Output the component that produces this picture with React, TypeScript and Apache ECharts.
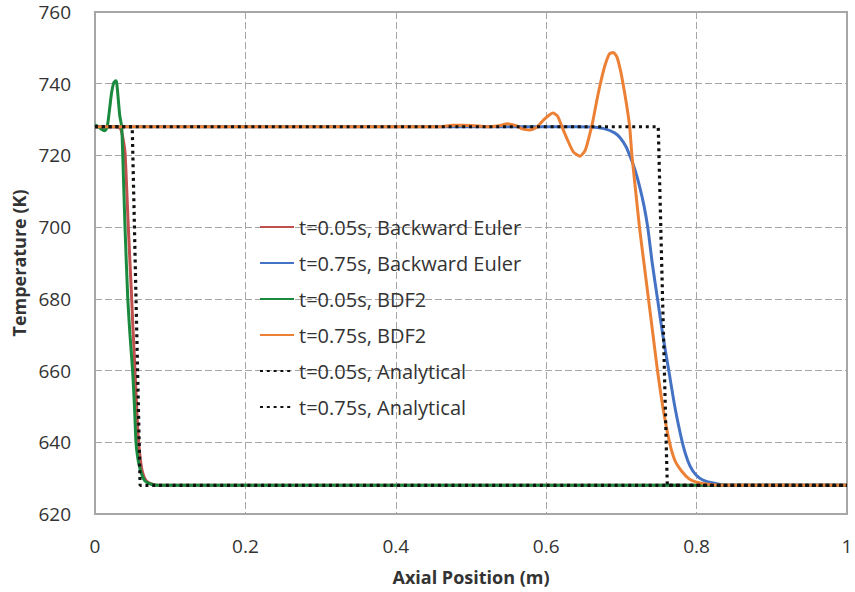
import React, { useEffect, useRef } from "react";
import * as echarts from "echarts";

const seriesNames = [
  "t=0.05s, Backward Euler",
  "t=0.75s, Backward Euler",
  "t=0.05s, BDF2",
  "t=0.75s, BDF2",
  "t=0.05s, Analytical",
  "t=0.75s, Analytical",
];

const beT005: [number, number][] = [
  [0, 728], [0.03, 728], [0.034, 727.4], [0.037, 725], [0.04, 720.5], [0.0443, 700],
  [0.0488, 680], [0.05, 674], [0.0525, 663], [0.0545, 654], [0.0576, 641], [0.061, 634],
  [0.064, 631], [0.068, 629.3], [0.075, 628.4], [0.085, 628], [1, 628],
];

const beT075: [number, number][] = [
  [0, 728], [0.64, 728], [0.66, 727.9], [0.678, 727.4], [0.691, 726.3], [0.698, 725],
  [0.706, 722.5], [0.712, 719.5], [0.718, 716], [0.724, 711.5], [0.73, 706], [0.735, 700],
  [0.741, 690], [0.748, 680], [0.755, 670], [0.763, 660], [0.771, 650], [0.781, 640],
  [0.788, 635], [0.795, 632], [0.804, 630], [0.814, 629], [0.828, 628.4], [0.84, 628],
  [1, 628],
];

const bdfT005: [number, number][] = [
  [0, 728.5], [0.005, 728], [0.009, 727.2], [0.013, 726.9], [0.016, 727.8], [0.0177, 730],
  [0.02, 734], [0.022, 737.4], [0.025, 740.3], [0.0275, 740.8], [0.029, 740], [0.031, 735.5],
  [0.033, 731], [0.0355, 728], [0.0368, 720.7], [0.0399, 700], [0.0436, 680], [0.0465, 670],
  [0.05, 660], [0.0525, 650], [0.0545, 640], [0.057, 635.5], [0.06, 632.5], [0.0635, 630.3],
  [0.0665, 629.2], [0.072, 628.5], [0.082, 628], [1, 628],
];

const bdfT075: [number, number][] = [
  [0, 728], [0.46, 728], [0.475, 728.4], [0.49, 728.4], [0.505, 728.3], [0.52, 728],
  [0.537, 728.3], [0.549, 728.8], [0.56, 728.3], [0.568, 727.4], [0.578, 727.1], [0.587, 727.8],
  [0.597, 730], [0.609, 731.8], [0.615, 731], [0.621, 728], [0.628, 724.5], [0.636, 721],
  [0.645, 719.8], [0.652, 721.5], [0.658, 726], [0.662, 729.5], [0.667, 735], [0.672, 740],
  [0.678, 745], [0.684, 748.3], [0.689, 748.7], [0.694, 747.5], [0.699, 743.5], [0.703, 739],
  [0.707, 734], [0.711, 728], [0.714, 720], [0.719, 710], [0.724, 700], [0.73, 690],
  [0.736, 680], [0.742, 670], [0.748, 660], [0.755, 650], [0.764, 640], [0.771, 635],
  [0.78, 632], [0.79, 629.8], [0.8, 628.9], [0.818, 628.2], [0.83, 628], [1, 628],
];

const anaT005: [number, number][] = [
  [0, 728], [0.0495, 728], [0.06, 628], [1, 628],
];

const anaT075: [number, number][] = [
  [0, 728], [0.749, 728], [0.761, 628], [1, 628],
];

const colors = ["#C0504D", "#4472C4", "#1A8A3E", "#EC8035", "#111111", "#111111"];

const FONT = "Open Sans";

export default function App() {
  const ref = useRef<HTMLDivElement>(null);
  useEffect(() => {
    if (!ref.current) return;
    const chart = echarts.init(ref.current, undefined, { renderer: "svg" });
    const solid = (name: string, data: [number, number][], color: string) => ({
      name,
      type: "line",
      data,
      symbol: "none",
      showSymbol: false,
      smooth: 0.2,
      lineStyle: { color, width: 3 },
      itemStyle: { color },
    });
    const dotted = (name: string, data: [number, number][]) => ({
      name,
      type: "line",
      data,
      symbol: "none",
      showSymbol: false,
      lineStyle: { color: "#111111", width: 3.2, type: [3, 3.8] },
      itemStyle: { color: "#111111" },
    });
    chart.setOption({
      animation: false,
      color: colors,
      grid: {
        left: 95,
        right: 8,
        top: 12,
        bottom: 78,
        show: true,
        borderColor: "#A6A6A6",
        borderWidth: 2,
        outerBoundsMode: "none",
      },
      legend: {
        orient: "vertical",
        left: 259,
        top: 217,
        padding: 0,
        itemWidth: 34,
        itemHeight: 14,
        itemGap: 16,
        data: seriesNames,
        itemStyle: { opacity: 0, borderWidth: 0 },
        textStyle: { fontFamily: FONT, fontSize: 20, color: "#333333", lineHeight: 20 },
      },
      xAxis: {
        type: "value",
        min: 0,
        max: 1,
        interval: 0.2,
        name: "Axial Position (m)",
        nameLocation: "middle",
        nameGap: 54,
        nameTextStyle: { fontFamily: FONT, fontSize: 18, fontWeight: "bold", color: "#333333" },
        axisLine: { show: false },
        axisTick: { show: false },
        axisLabel: { fontFamily: FONT, fontSize: 19, color: "#333333", margin: 22 },
        splitLine: {
          show: true,
          showMinLine: false,
          showMaxLine: false,
          lineStyle: { color: "#A6A6A6", width: 1, type: [7, 3] },
        },
      },
      yAxis: {
        type: "value",
        min: 620,
        max: 760,
        interval: 20,
        name: "Temperature (K)",
        nameLocation: "middle",
        nameGap: 64,
        nameTextStyle: { fontFamily: FONT, fontSize: 18, fontWeight: "bold", color: "#333333" },
        axisLine: { show: false },
        axisTick: { show: false },
        axisLabel: { fontFamily: FONT, fontSize: 19, color: "#333333", margin: 24 },
        splitLine: {
          show: true,
          showMinLine: false,
          showMaxLine: false,
          lineStyle: { color: "#A6A6A6", width: 1, type: [7, 3] },
        },
      },
      series: [
        solid(seriesNames[0], beT005, colors[0]),
        solid(seriesNames[1], beT075, colors[1]),
        solid(seriesNames[2], bdfT005, colors[2]),
        solid(seriesNames[3], bdfT075, colors[3]),
        dotted(seriesNames[4], anaT005),
        dotted(seriesNames[5], anaT075),
      ],
    });
    return () => chart.dispose();
  }, []);
  return (
    <div
      ref={ref}
      style={{ position: "fixed", left: 0, top: 0, width: 855, height: 592, background: "#fff" }}
    />
  );
}
